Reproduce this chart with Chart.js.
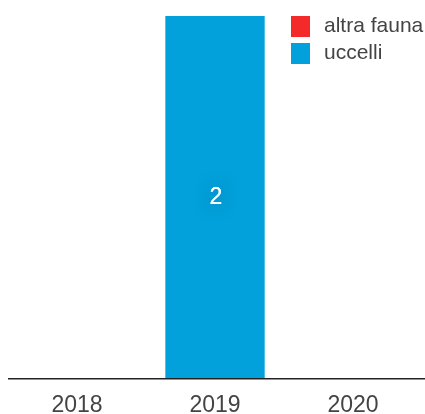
<!DOCTYPE html>
<html>
<head>
<meta charset="utf-8">
<script src="https://cdn.jsdelivr.net/npm/chart.js@4/dist/chart.umd.min.js"></script>
<style>
html,body{margin:0;padding:0;background:#fff;}
#wrap{width:425px;height:414px;position:relative;}
</style>
</head>
<body>
<div id="wrap"><canvas id="c" width="425" height="414"></canvas></div>
<script>
const categories = ['2018', '2019', '2020'];
const seriesNames = ['altra fauna', 'uccelli'];
const altraFauna = [0, 0, 0];
const uccelli = [0, 2, 0];
const colors = ['#f42a2a', '#02a1db'];

const labelPlugin = {
  id: 'valueLabels',
  afterDatasetsDraw(chart) {
    const ctx = chart.ctx;
    chart.data.datasets.forEach((ds, di) => {
      const meta = chart.getDatasetMeta(di);
      meta.data.forEach((bar, i) => {
        const v = ds.data[i];
        if (!v) return;
        const props = bar.getProps(['x', 'y', 'base'], true);
        const cy = (props.y + props.base) / 2;
        ctx.save();
        ctx.font = '23px "Liberation Sans", Arial, sans-serif';
        ctx.textAlign = 'center';
        ctx.textBaseline = 'middle';
        ctx.shadowColor = 'rgba(0,40,80,0.5)';
        ctx.shadowBlur = 16;
        ctx.fillStyle = '#ffffff';
        ctx.fillText(String(v), props.x + 1, cy + 1);
        ctx.shadowBlur = 0;
        ctx.fillText(String(v), props.x + 1, cy + 1);
        ctx.restore();
      });
    });
  }
};

const legendPlugin = {
  id: 'customLegend',
  afterDraw(chart) {
    const ctx = chart.ctx;
    ctx.save();
    ctx.font = '21px "Liberation Sans", Arial, sans-serif';
    ctx.textBaseline = 'middle';
    ctx.textAlign = 'left';
    chart.data.datasets.forEach((ds, i) => {
      const y = 16 + i * 27;
      ctx.fillStyle = ds.backgroundColor;
      ctx.fillRect(291, y, 19, 21);
      ctx.fillStyle = '#444444';
      ctx.fillText(ds.label, 324, y + 10);
    });
    ctx.restore();
  }
};

const axisLinePlugin = {
  id: 'axisLine',
  afterDatasetsDraw(chart) {
    const ctx = chart.ctx;
    const y = chart.chartArea.bottom;
    ctx.save();
    ctx.strokeStyle = '#222222';
    ctx.lineWidth = 1.6;
    ctx.beginPath();
    ctx.moveTo(chart.chartArea.left, y + 0.8);
    ctx.lineTo(425, y + 0.8);
    ctx.stroke();
    ctx.restore();
  }
};

new Chart(document.getElementById('c'), {
  type: 'bar',
  data: {
    labels: categories,
    datasets: [
      { label: seriesNames[0], data: altraFauna, backgroundColor: colors[0], categoryPercentage: 0.72, barPercentage: 1 },
      { label: seriesNames[1], data: uccelli, backgroundColor: colors[1], categoryPercentage: 0.72, barPercentage: 1 }
    ]
  },
  options: {
    responsive: false,
    animation: false,
    devicePixelRatio: 1,
    layout: { padding: { top: 16, left: 8, right: 3, bottom: 0 } },
    plugins: { legend: { display: false }, tooltip: { enabled: false } },
    scales: {
      x: {
        stacked: true,
        grid: { display: false, drawTicks: false },
        border: { display: false },
        afterFit(scale) { scale.height = 36; },
        ticks: {
          color: '#444444',
          padding: 16,
          font: { family: '"Liberation Sans", Arial, sans-serif', size: 23, lineHeight: 1 }
        }
      },
      y: {
        stacked: true,
        display: false,
        min: 0,
        max: 2
      }
    }
  },
  plugins: [labelPlugin, legendPlugin, axisLinePlugin]
});
</script>
</body>
</html>
